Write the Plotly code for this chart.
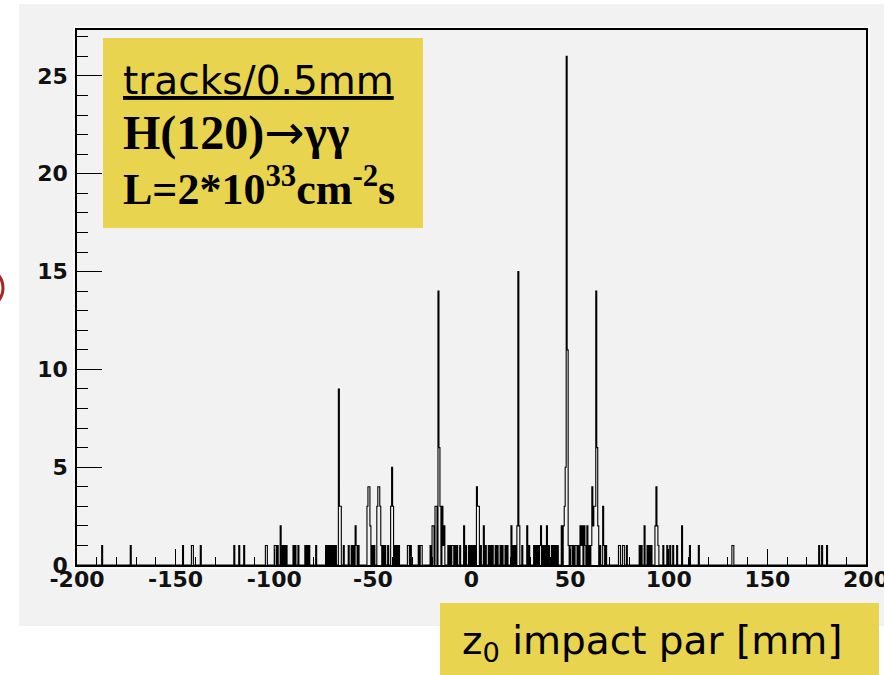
import numpy as np
import plotly.graph_objects as go

# ---------------- data (bin lower edge in mm, tracks per 0.5 mm bin) ----------------
z_pos = [
    -187.5, -173.0, -146.5, -142.0, -141.5, -137.5, -120.5, -118.0, -115.5, -104.5, -104.0,
    -100.0, -99.5, -98.5, -97.0, -96.0, -95.0, -94.0, -90.5, -89.5, -88.0, -84.5, -83.5, -82.5,
    -79.0, -74.0, -73.0, -72.0, -71.0, -70.0, -69.0, -67.5, -67.0, -66.5, -65.0, -62.5, -61.0,
    -60.0, -59.0, -58.5, -57.5, -53.0, -52.5, -52.0, -51.5, -50.5, -49.5, -48.0, -47.5, -47.0,
    -46.5, -46.0, -45.0, -44.0, -42.5, -41.0, -40.5, -40.0, -39.0, -38.0, -37.0, -32.5, -32.0,
    -31.0, -27.0, -26.0, -25.5, -21.0, -20.0, -19.5, -18.5, -18.0, -17.0, -16.5, -16.0, -15.0,
    -14.5, -14.0, -12.0, -11.0, -10.0, -9.5, -8.5, -7.5, -6.0, -4.0, -3.0, -1.5, -0.5, 0.5,
    1.5, 2.5, 3.0, 3.5, 4.5, 6.0, 7.0, 8.5, 9.5, 10.5, 12.0, 13.0, 14.5, 15.5, 17.0, 18.0,
    20.0, 21.0, 22.0, 23.0, 23.5, 24.0, 25.5, 28.0, 29.0, 31.5, 32.5, 33.5, 34.5, 35.0, 36.0,
    37.0, 38.0, 39.0, 40.5, 41.5, 42.5, 43.5, 45.5, 46.5, 47.0, 47.5, 48.0, 48.5, 49.0, 50.0,
    50.5, 51.5, 52.5, 53.0, 54.0, 55.0, 55.5, 56.0, 57.0, 57.5, 58.5, 59.5, 60.5, 61.0, 61.5,
    62.0, 62.5, 63.0, 63.5, 64.0, 65.0, 66.5, 67.0, 68.0, 74.5, 75.0, 76.5, 77.0, 78.5, 85.0,
    86.0, 87.5, 89.0, 90.0, 91.0, 93.0, 93.5, 94.0, 94.5, 97.0, 99.0, 100.5, 102.0, 104.0,
    106.5, 110.5, 115.0, 132.0, 132.5, 176.0, 177.5, 180.0,
]
counts = [
    1, 1, 1, 1, 1, 1, 1, 1, 1, 1, 1,
    1, 1, 1, 2, 1, 1, 1, 1, 1, 1, 1, 1, 1,
    1, 1, 1, 1, 1, 1, 1, 9, 3, 3, 1, 1, 1,
    1, 2, 1, 1, 3, 4, 4, 2, 1, 1, 3, 4, 4,
    3, 1, 1, 1, 1, 3, 5, 3, 1, 1, 1, 1, 1,
    1, 1, 1, 1, 1, 2, 2, 3, 3, 14, 6, 3, 3,
    1, 2, 1, 1, 1, 1, 1, 1, 1, 2, 1, 1, 1, 1,
    1, 4, 3, 3, 1, 2, 1, 1, 1, 1, 1, 1, 1, 1, 1, 1,
    2, 1, 1, 2, 15, 2, 1, 2, 1, 1, 1, 1, 1, 2, 1,
    1, 2, 1, 1, 1, 1, 1, 2, 2, 3, 5, 26, 11, 1, 1,
    1, 1, 1, 1, 1, 2, 1, 2, 2, 1, 2, 1, 1, 4, 2,
    3, 3, 14, 6, 2, 1, 3, 1, 1, 1, 1, 1, 1, 1, 1,
    1, 2, 1, 1, 1, 2, 4, 2, 1, 1, 1, 1, 1, 1,
    2, 1, 1, 1, 1, 1, 1, 1,
]

x_range = [-200, 200]
bin_width = 0.5
x_tick_vals = [-200, -150, -100, -50, 0, 50, 100, 150, 200]
x_tick_text = ["-200", "-150", "-100", "-50", "0", "50", "100", "150", "200"]
y_tick_vals = [0, 5, 10, 15, 20, 25]
y_tick_text = ["0", "5", "10", "15", "20", "25"]

box_lines = [
    "<u>tracks/0.5mm</u>",
    "<b>H(120)<span style=\"font-family:'DejaVu Sans';font-weight:normal\">→</span>γγ</b>",
    "<b>L=2*10<sup>33</sup>cm<sup>-2</sup>s</b>",
]
x_title = "z<sub>0</sub> impact par [mm]"

# ---------------- build histogram ----------------
n_bins = int(round((x_range[1] - x_range[0]) / bin_width))
edges = np.linspace(x_range[0], x_range[1], n_bins + 1)
hist = np.zeros(n_bins)
for z, c in zip(z_pos, counts):
    hist[int(round((z - x_range[0]) / bin_width))] = c
step_y = np.append(hist, 0.0)

# ---------------- figure ----------------
W, H = 884, 675
L, R, T, B = 77, 18, 30, 110
pw, ph = W - L - R, H - T - B


def px(xp):
    return (xp - L) / pw


def py(yp):
    return (H - B - yp) / ph


fig = go.Figure()
fig.add_trace(go.Scatter(
    x=edges, y=step_y, mode="lines", line=dict(color="black", width=1.1, shape="hv"),
    hoverinfo="skip", showlegend=False,
))

tickfont = dict(family="DejaVu Sans", size=22, color="#111111", weight="bold")
fig.update_xaxes(
    range=x_range, tickvals=x_tick_vals, ticktext=x_tick_text,
    ticks="inside", ticklen=16, tickwidth=1, tickcolor="black",
    minor=dict(dtick=10, ticklen=8, ticks="inside", tickcolor="black", tickwidth=1),
    showline=True, linecolor="black", linewidth=1.5, mirror=True,
    showgrid=False, zeroline=False, tickfont=tickfont, ticklabelstandoff=-6,
    ticklabeloverflow="allow", automargin=False,
)
fig.update_yaxes(
    range=[0, 27.35], tickvals=y_tick_vals, ticktext=y_tick_text,
    ticks="inside", ticklen=25, tickwidth=1, tickcolor="black",
    minor=dict(dtick=1, ticklen=11, ticks="inside", tickcolor="black", tickwidth=1),
    showline=True, linecolor="black", linewidth=1.5, mirror=True,
    showgrid=False, zeroline=False, tickfont=tickfont, ticklabelstandoff=3,
    ticklabeloverflow="allow", automargin=False,
)

shapes = [
    # grey canvas panel
    dict(type="rect", xref="paper", yref="paper", x0=px(19), x1=px(884), y0=py(626), y1=py(4),
         fillcolor="#f2f2f2", line=dict(width=0), layer="below"),
    # light frame halo
    dict(type="rect", xref="paper", yref="paper", x0=px(74), x1=px(869), y0=py(568), y1=py(27),
         line=dict(color="#fbfbfb", width=2), layer="below"),
    # yellow info box
    dict(type="rect", xref="paper", yref="paper", x0=px(103), x1=px(423), y0=py(228), y1=py(38),
         fillcolor="#e8d44e", line=dict(width=0), layer="above"),
    # yellow x-title box
    dict(type="rect", xref="paper", yref="paper", x0=px(440), x1=px(879), y0=py(675), y1=py(603),
         fillcolor="#e8d44e", line=dict(width=0), layer="above"),
    # red circle fragment at the left edge
    dict(type="circle", xref="paper", yref="paper", x0=px(-40), x1=px(3), y0=py(309), y1=py(267),
         line=dict(color="#a3262a", width=3), layer="above"),
]

annotations = [
    dict(text=box_lines[0], x=px(121), y=py(80), xref="paper", yref="paper",
         xanchor="left", yanchor="middle", showarrow=False,
         font=dict(family="DejaVu Sans", size=39, color="black")),
    dict(text=box_lines[1], x=px(121), y=py(132), xref="paper", yref="paper",
         xanchor="left", yanchor="middle", showarrow=False,
         font=dict(family="Liberation Serif", size=48, color="black")),
    dict(text=box_lines[2], x=px(121), y=py(186), xref="paper", yref="paper",
         xanchor="left", yanchor="middle", showarrow=False,
         font=dict(family="Liberation Serif", size=44, color="black")),
    dict(text=x_title, x=px(460), y=py(643), xref="paper", yref="paper",
         xanchor="left", yanchor="middle", showarrow=False,
         font=dict(family="DejaVu Sans", size=39, color="black")),
]

fig.update_layout(
    width=W, height=H, margin=dict(l=L, r=R, t=T, b=B, pad=0, autoexpand=False),
    paper_bgcolor="white", plot_bgcolor="#f2f2f2",
    shapes=shapes, annotations=annotations, showlegend=False,
)

fig.write_html("out.html")
